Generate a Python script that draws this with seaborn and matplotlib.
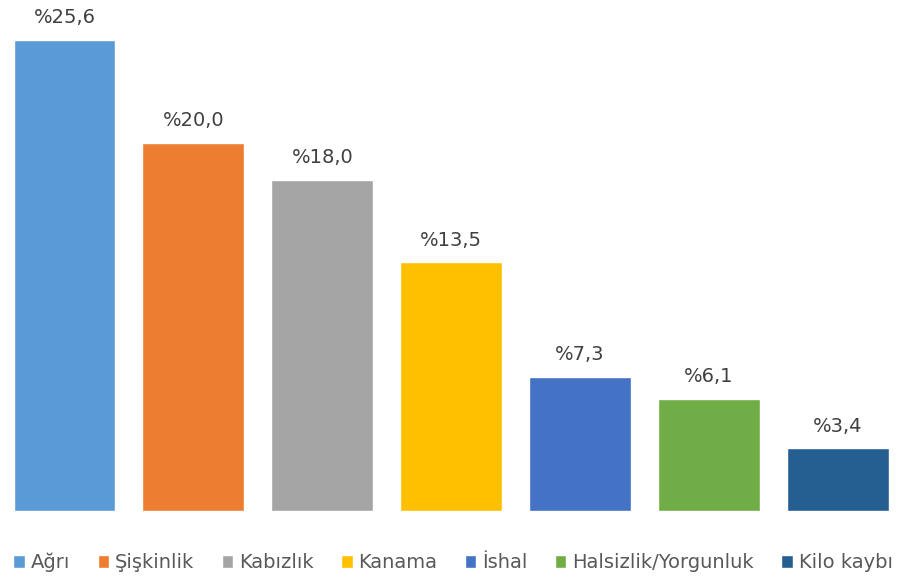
import seaborn as sns
import pandas as pd
import matplotlib.pyplot as plt
from matplotlib.patches import Patch

categories = ['Ağrı', 'Şişkinlik', 'Kabızlık', 'Kanama', 'İshal', 'Halsizlik/Yorgunluk', 'Kilo kaybı']
values = [25.6, 20.0, 18.0, 13.5, 7.3, 6.1, 3.4]
colors = ['#5B9BD5', '#ED7D31', '#A5A5A5', '#FFC000', '#4472C4', '#70AD47', '#255E91']

df = pd.DataFrame({'kategori': categories, 'oran': values})

sns.set_style('white')
plt.rcParams['font.family'] = ['DejaVu Sans']

fig = plt.figure(figsize=(9.06, 5.8), dpi=100)
ax = fig.add_axes([0.0, 0.119, 0.996, 0.857])

sns.barplot(data=df, x='kategori', y='oran', hue='kategori', palette=colors,
            width=0.79, legend=False, ax=ax, saturation=1)

for i, v in enumerate(values):
    lbl = '%' + ('%.1f' % v).replace('.', ',')
    ax.text(i, v + 0.7, lbl, ha='center', va='bottom', fontsize=14, color='#404040')

ax.set_xlim(-0.5, 6.5)
ax.set_ylim(0, 27)
ax.axis('off')

handles = [Patch(facecolor=c, label=k) for k, c in zip(categories, colors)]
fig.legend(handles=handles, loc='center', bbox_to_anchor=(0.5, 0.03), ncol=7,
           frameon=False, fontsize=14, handlelength=0.6, handleheight=0.6,
           handletextpad=0.3, columnspacing=1.4, labelcolor='#595959')

plt.savefig('out.png', dpi=100)
